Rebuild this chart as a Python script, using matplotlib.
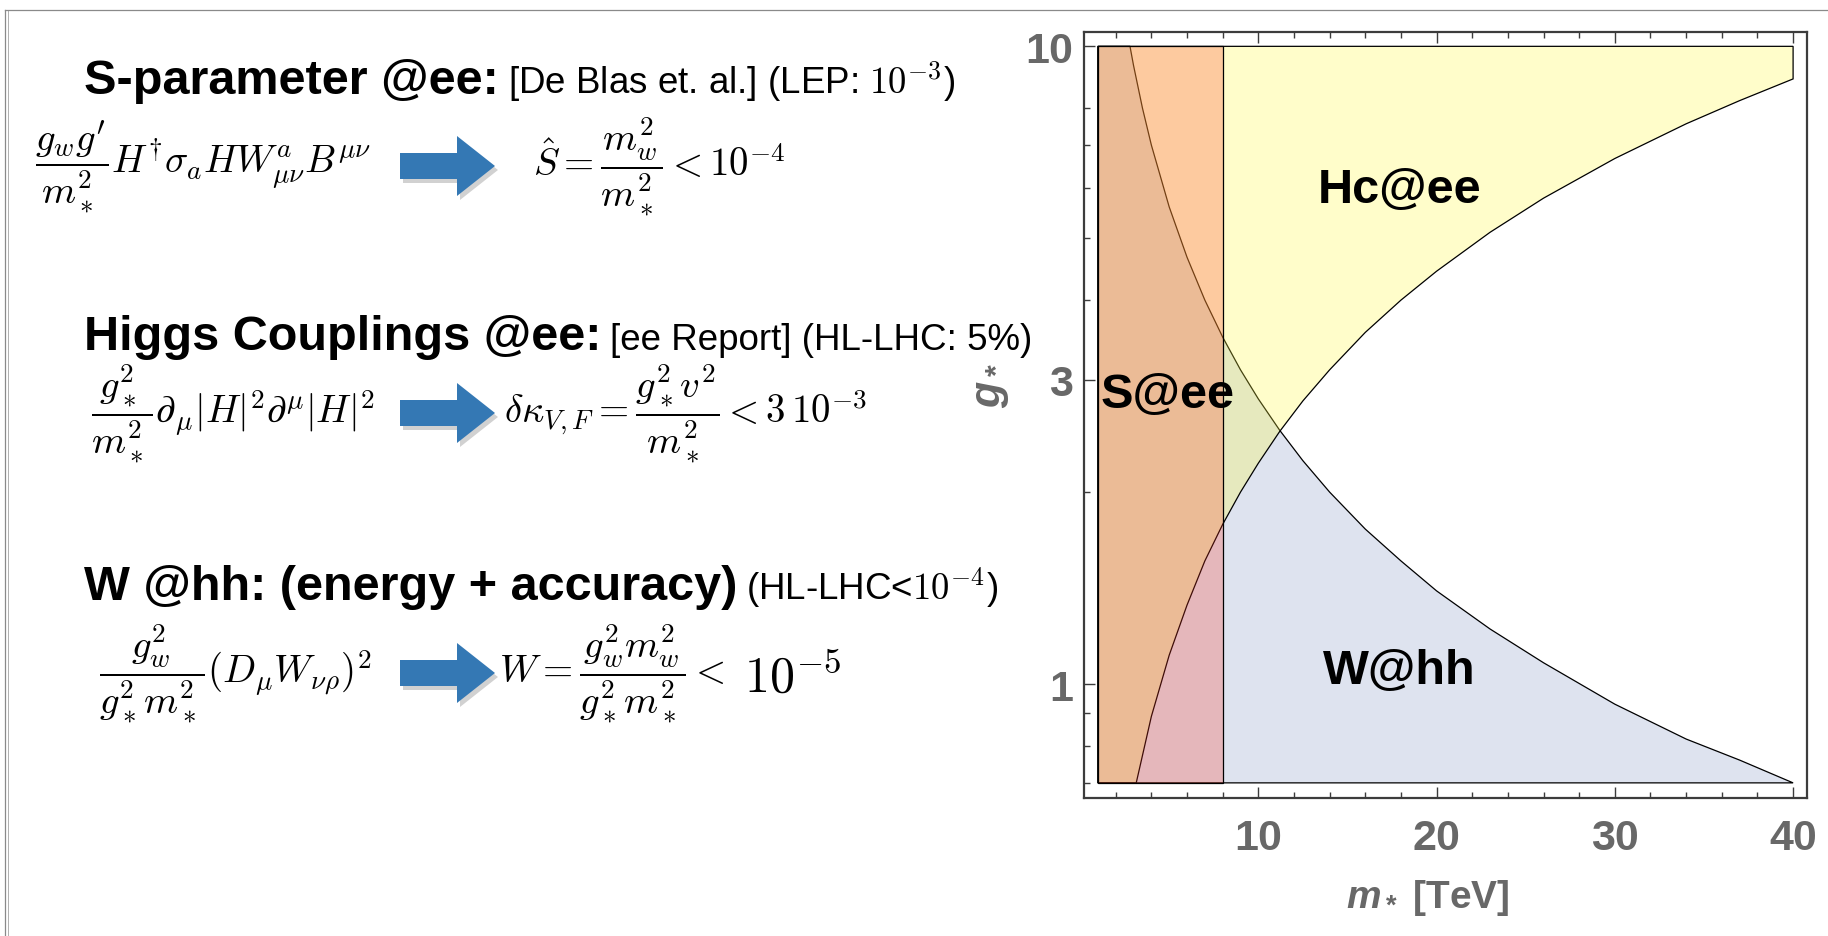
"""Slide: composite-Higgs reach of ee vs hh (S-parameter, Higgs couplings, W)."""

import matplotlib

matplotlib.use("Agg")
import matplotlib.pyplot as plt  # noqa: E402
from matplotlib.lines import Line2D  # noqa: E402
from matplotlib.patches import Polygon  # noqa: E402
from matplotlib.ticker import FixedFormatter, FixedLocator, NullFormatter  # noqa: E402

W_PX, H_PX = 1828, 937

# plot range (m_* in TeV, g_*)
m_range = (1.0, 40.0)
g_range = (0.7, 10.0)
s_bound = 8.0  # S@ee: m_* > 8 TeV

# W@hh boundary, excluded below
w_m = [2.8, 3.0, 3.5, 4.0, 5.0, 6.0, 7.0, 8.0, 9.0, 10.0, 11.2, 12.5, 14.0, 16.0,
       18.0, 20.0, 23.0, 26.0, 30.0, 34.0, 37.0, 40.0]
w_g = [10.0, 9.33, 8.0, 7.0, 5.6, 4.67, 4.0, 3.5, 3.11, 2.8, 2.5, 2.24, 2.0, 1.75,
       1.56, 1.4, 1.22, 1.08, 0.93, 0.82, 0.76, 0.70]

# Hc@ee boundary, excluded above
hc_m = [3.15, 4.0, 5.0, 6.0, 7.0, 8.0, 9.0, 10.0, 11.2, 12.5, 14.0, 16.0, 18.0,
        20.0, 23.0, 26.0, 30.0, 34.0, 37.0, 40.0]
hc_g = [0.70, 0.89, 1.11, 1.33, 1.56, 1.78, 2.0, 2.22, 2.49, 2.78, 3.11, 3.56, 4.0,
        4.44, 5.11, 5.78, 6.67, 7.56, 8.22, 8.89]

x_major = [10, 20, 30, 40]
x_minor = [2, 4, 6, 8, 12, 14, 16, 18, 22, 24, 26, 28, 32, 34, 36, 38]
y_major = [1, 3, 10]
y_major_labels = ["1", "3", "10"]
y_minor = [0.7, 0.8, 0.9, 2, 4, 5, 6, 7, 8]

titles = ["S-parameter @ee:", "Higgs Couplings @ee:", "W @hh: (energy + accuracy)"]
notes = [r"[De Blas et. al.] (LEP: $10^{-3}$)", "[ee Report] (HL-LHC: 5%)",
         r"(HL-LHC<$10^{-4}$)"]
operators = [
    r"$\dfrac{g_w g^{\prime}}{m_*^2}H^{\dagger}\sigma_a H W^a_{\mu\nu}B^{\mu\nu}$",
    r"$\dfrac{g_*^2}{m_*^2}\partial_\mu|H|^2\partial^\mu|H|^2$",
    r"$\dfrac{g_w^2}{g_*^2 m_*^2}(D_\mu W_{\nu\rho})^2$",
]
bounds = [
    r"$\hat{S} = \dfrac{m_w^2}{m_*^2} < 10^{-4}$",
    r"$\delta\kappa_{V,F} = \dfrac{g_*^2 v^2}{m_*^2} < 3\,10^{-3}$",
    r"$W = \dfrac{g_w^2 m_w^2}{g_*^2 m_*^2} <$",
]

plt.rcParams.update({
    "font.family": ["Liberation Sans", "DejaVu Sans"],
    "mathtext.fontset": "custom",
    "mathtext.rm": "Liberation Sans:bold",
    "mathtext.bf": "Liberation Sans:bold",
    "mathtext.it": "Liberation Sans:italic:bold",
})

GRAY = "#686868"
FRAME = "#3c3c3c"
BLUE = "#3478b4"


def fx(x):
    return x / W_PX


def fy(y):
    return 1 - y / H_PX


fig = plt.figure(figsize=(W_PX / 100, H_PX / 100), dpi=100)
renderer = fig.canvas.get_renderer()

# slide border
fig.add_artist(Line2D([fx(5), fx(5)], [0, fy(11)], color="#8a8a8a", lw=0.9))
fig.add_artist(Line2D([fx(8), fx(8)], [0, fy(11)], color="#b0b0b0", lw=0.7))
fig.add_artist(Line2D([fx(5), 1], [fy(11), fy(11)], color="#8a8a8a", lw=0.9))

# left column: headings, operators, bounds
title_base = [94, 350, 600]
row_mid = [167, 414, 674]
op_x = [35, 91, 99]
bound_x = [533, 504, 499]
for i in range(3):
    t = fig.text(fx(84), fy(title_base[i]), titles[i], fontsize=35, fontweight="bold",
                 va="baseline", ha="left")
    bb = t.get_window_extent(renderer=renderer)
    fig.text(fx(bb.x1 + 9), fy(title_base[i]), notes[i], fontsize=26.5, va="baseline",
             ha="left", math_fontfamily="cm")
    fig.text(fx(op_x[i]), fy(row_mid[i]), operators[i], fontsize=28, va="center",
             ha="left", math_fontfamily="cm")
    b = fig.text(fx(bound_x[i]), fy(row_mid[i]), bounds[i], fontsize=28, va="center",
                 ha="left", math_fontfamily="cm")
    if i == 2:
        bb = b.get_window_extent(renderer=renderer)
        fig.text(fx(bb.x1 + 20), fy(row_mid[i] + 4), r"$10^{-5}$", fontsize=36,
                 va="center", ha="left", math_fontfamily="cm")

    # block arrow with a soft shadow
    yc = row_mid[i]
    x0, x1, x2, hb, hh = 400, 457, 495, 13, 30
    pts = [(x0, yc - hb), (x1, yc - hb), (x1, yc - hh), (x2, yc), (x1, yc + hh),
           (x1, yc + hb), (x0, yc + hb)]
    shadow = Polygon([(fx(x + 3), fy(y + 4)) for x, y in pts], closed=True,
                     transform=fig.transFigure, facecolor="#000000", alpha=0.18, lw=0)
    fig.add_artist(shadow)
    fig.add_artist(Polygon([(fx(x), fy(y)) for x, y in pts], closed=True,
                           transform=fig.transFigure, facecolor=BLUE, lw=0))

# right: exclusion regions
ax = fig.add_axes([fx(1084), fy(798.6), (1807 - 1084) / W_PX, (798.6 - 32.6) / H_PX])
ax.set_yscale("log")
m0, m1 = m_range
g0, g1 = g_range

edge = dict(edgecolor="black", lw=0.9)
ax.fill([m0, m0] + w_m, [g0, g1] + w_g, facecolor=(90 / 255, 115 / 255, 175 / 255, 0.2),
        **edge)
ax.fill([m0] + hc_m + [m1, m0], [g0] + hc_g + [g1, g1],
        facecolor=(1.0, 250 / 255, 60 / 255, 0.27), **edge)
ax.fill([m0, s_bound, s_bound, m0], [g0, g0, g1, g1],
        facecolor=(251 / 255, 53 / 255, 34 / 255, 0.25), **edge)

lab = dict(fontsize=35, fontweight="bold", ha="center", va="center", color="black")
ax.text(17.9, 5.96, "Hc@ee", **lab)
ax.text(4.9, 2.85, "S@ee", **lab)
ax.text(17.9, 1.05, "W@hh", **lab)

pad_m = 0.02 * (m1 - m0)
ax.set_xlim(m0 - pad_m, m1 + pad_m)
ax.set_ylim(g0 / (g1 / g0) ** 0.02, g1 * (g1 / g0) ** 0.02)

ax.xaxis.set_major_locator(FixedLocator(x_major))
ax.xaxis.set_minor_locator(FixedLocator(x_minor))
ax.yaxis.set_major_locator(FixedLocator(y_major))
ax.yaxis.set_major_formatter(FixedFormatter(y_major_labels))
ax.yaxis.set_minor_locator(FixedLocator(y_minor))
ax.yaxis.set_minor_formatter(NullFormatter())

ax.tick_params(which="both", direction="in", top=True, right=False, color=FRAME,
               width=1.0)
ax.tick_params(which="major", length=8, labelsize=31, labelcolor=GRAY)
ax.tick_params(which="minor", length=4.5)
ax.tick_params(axis="x", which="major", pad=15)
ax.tick_params(axis="y", which="major", pad=8)
plt.setp(ax.get_xticklabels() + ax.get_yticklabels(), fontweight="bold")
for sp in ax.spines.values():
    sp.set_color(FRAME)
    sp.set_linewidth(1.6)

ax.text(-0.128, 0.54, r"$g_*$", transform=ax.transAxes, rotation=90, fontsize=31,
        color=GRAY, ha="center", va="center", math_fontfamily="custom")
ax.text(0.476, -0.13, r"$m_*$ [TeV]", transform=ax.transAxes, fontsize=28,
        fontweight="bold", color=GRAY, ha="center", va="center",
        math_fontfamily="custom")

fig.savefig("out.png", dpi=100)
